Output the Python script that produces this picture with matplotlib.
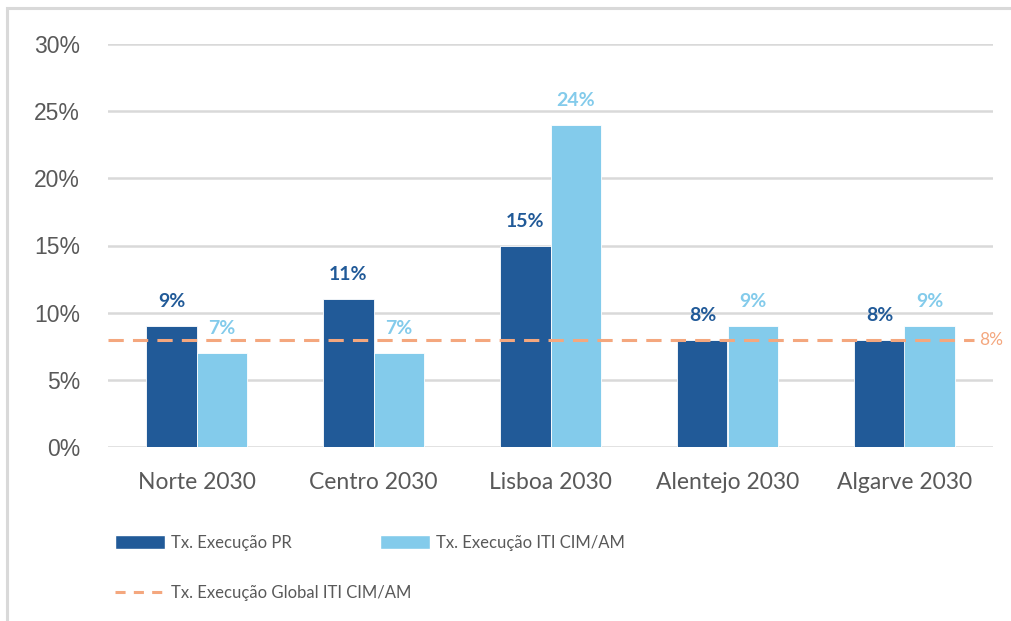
import matplotlib
matplotlib.use("Agg")
import matplotlib.pyplot as plt
import numpy as np
from matplotlib.patches import Rectangle, Patch
from matplotlib.lines import Line2D

# data
regioes = ["Norte 2030", "Centro 2030", "Lisboa 2030", "Alentejo 2030", "Algarve 2030"]
tx_pr = [9, 11, 15, 8, 8]
tx_iti = [7, 7, 24, 9, 9]
tx_global = 8
y_ticks = [0, 5, 10, 15, 20, 25, 30]

cor_pr = "#215A98"
cor_iti = "#83CBEB"
cor_global = "#F4A77E"
cinza = "#595959"
grelha = "#D9D9D9"

W, H = 1011, 621
fig = plt.figure(figsize=(W / 100, H / 100), dpi=100)

def px(x, y):
    # pixel coords (top-left origin) -> figure fraction
    return x / W, 1 - y / H

# outer frame (left + top visible)
fig.patches.append(Rectangle(px(7, 640), (W + 20) / W, 632 / H, transform=fig.transFigure,
                             fill=False, edgecolor=grelha, linewidth=2.2))

ax = fig.add_axes([108 / W, 1 - 447 / H, 885 / W, 403 / H])
x = np.arange(len(regioes))
w = 0.283

b1 = ax.bar(x - w / 2, tx_pr, w, color=cor_pr, edgecolor="white", linewidth=0.6, zorder=3)
b2 = ax.bar(x + w / 2, tx_iti, w, color=cor_iti, edgecolor="white", linewidth=0.6, zorder=3)

for xi, v in zip(x - w / 2, tx_pr):
    ax.annotate(f"{v}%", (xi, v), xytext=(0, 13.5), textcoords="offset points",
                ha="center", va="baseline", fontsize=14, fontweight="bold",
                color=cor_pr, family="Lato", zorder=5)
for xi, v in zip(x + w / 2, tx_iti):
    ax.annotate(f"{v}%", (xi, v), xytext=(0, 13.5), textcoords="offset points",
                ha="center", va="baseline", fontsize=14, fontweight="bold",
                color=cor_iti, family="Lato", zorder=5)

# global rate dashed line
ax.plot([-0.5, 4.39], [tx_global, tx_global], color=cor_global, lw=2.2,
        dashes=(5, 3), zorder=4, clip_on=False)
ax.text(4.42, tx_global, f"{tx_global}%", color=cor_global, fontsize=12.5,
        family="Lato", va="center", ha="left", clip_on=False)

ax.set_xlim(-0.5, 4.5)
ax.set_ylim(0, 30)
ax.set_yticks(y_ticks)
ax.set_yticklabels([f"{t}%" for t in y_ticks], family="Liberation Sans", fontsize=16.5, color=cinza)
ax.set_xticks(x)
ax.set_xticklabels(regioes, family="Lato", fontsize=16.5, color=cinza)
ax.tick_params(axis="y", length=0, pad=20)
ax.tick_params(axis="x", length=0, pad=18)
ax.yaxis.grid(True, color=grelha, linewidth=1.8, zorder=0)
ax.set_axisbelow(True)
for s in ax.spines.values():
    s.set_visible(False)

# legend, three entries placed individually
fonte_leg = {"family": "Lato", "size": 12}
entradas = [
    (Patch(facecolor=cor_pr, edgecolor="white"), "Tx. Execução PR", (115, 543)),
    (Patch(facecolor=cor_iti, edgecolor="white"), "Tx. Execução ITI CIM/AM", (380, 543)),
    (Line2D([], [], color=cor_global, lw=2.2, dashes=(3.3, 2.7)), "Tx. Execução Global ITI CIM/AM", (115, 593)),
]
for h, lab, pos in entradas:
    leg = fig.legend([h], [lab], loc="center left", bbox_to_anchor=px(*pos),
                     frameon=False, prop=fonte_leg, handlelength=3.0, handleheight=0.92,
                     handletextpad=0.35, borderpad=0, borderaxespad=0)
    for t in leg.get_texts():
        t.set_color(cinza)

fig.savefig("out.png", dpi=100)
